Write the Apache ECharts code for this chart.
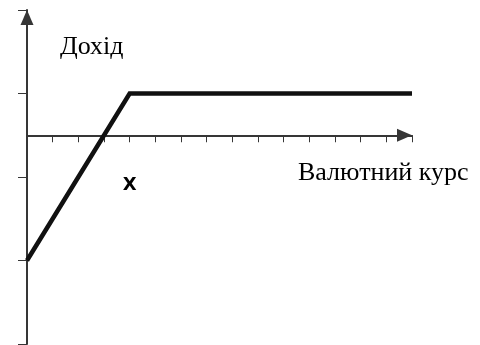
<!DOCTYPE html>
<html>
<head>
<meta charset="utf-8">
<script src="https://cdn.jsdelivr.net/npm/echarts@6/dist/echarts.min.js"></script>
<style>
  html, body { margin: 0; padding: 0; background: #fff; }
  #main { width: 480px; height: 345px; }
</style>
</head>
<body>
<div id="main"></div>
<script>
// income profile: rises until X, then flat
var rateX = [0, 4, 15];
var income = [-3, 1, 1];
var yTicks = [-5, -3, -1, 1, 3];
var xMarkValue = 4;
var xMarkLabel = 'X';
var yName = 'Дохід';
var xName = 'Валютний курс';

var chart = echarts.init(document.getElementById('main'));

var axisColor = '#363636';

option = {
    animation: false,
    grid: { left: 27, right: 68, top: 10, bottom: 1, containLabel: false, outerBoundsMode: 'none' },
    xAxis: {
        type: 'value',
        min: 0,
        max: 15,
        interval: 1,
        splitLine: { show: false },
        axisLine: {
            onZero: true,
            lineStyle: { color: axisColor, width: 2 },
            symbol: ['none', 'triangle'],
            symbolSize: [13, 15],
            symbolOffset: [0, -7.5]
        },
        axisTick: { show: true, length: 7, lineStyle: { color: axisColor, width: 1 } },
        axisLabel: { show: false }
    },
    yAxis: {
        type: 'value',
        min: -5,
        max: 3,
        splitLine: { show: false },
        axisLine: {
            lineStyle: { color: axisColor, width: 2 },
            symbol: ['none', 'triangle'],
            symbolSize: [13, 15],
            symbolOffset: [0, -7.5]
        },
        axisTick: { show: true, length: 9, customValues: yTicks, lineStyle: { color: axisColor, width: 1 } },
        axisLabel: { show: false }
    },
    series: [{
        type: 'line',
        data: rateX.map(function (x, i) { return [x, income[i]]; }),
        symbol: 'none',
        lineStyle: { color: '#111', width: 4.5, join: 'miter' }
    }]
};

if (option && typeof option === "object") {
    chart.setOption(option, true);
}

// the X mark sits under its tick, well below the axis
var markX = chart.convertToPixel({ xAxisIndex: 0 }, xMarkValue);
var axisY = chart.convertToPixel({ yAxisIndex: 0 }, 0);
chart.setOption({
    graphic: [
        {
            id: 'yname', type: 'text', left: 60, top: 34,
            style: { text: yName, fill: '#000', font: '26px "Liberation Serif"' }
        },
        {
            id: 'xname', type: 'text', left: 298, top: 160,
            style: { text: xName, fill: '#000', font: '26px "Liberation Serif"' }
        },
        {
            id: 'xmark', type: 'text',
            x: markX,
            y: axisY + 50,
            style: {
                text: xMarkLabel,
                fill: '#000',
                fontFamily: 'DejaVu Sans',
                fontWeight: 'bold',
                fontSize: 18,
                align: 'center',
                verticalAlign: 'middle'
            }
        }
    ]
});
</script>
</body>
</html>
